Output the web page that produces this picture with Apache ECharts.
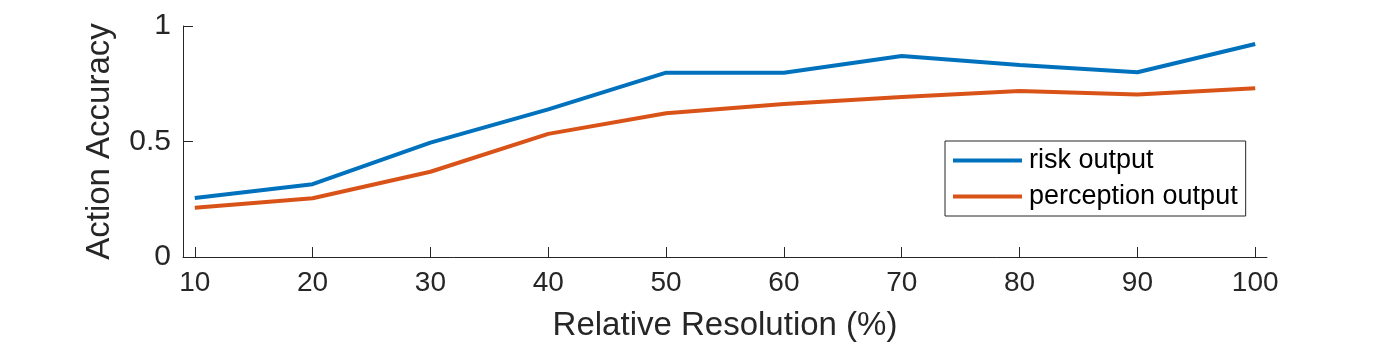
<!DOCTYPE html>
<html>
<head>
<meta charset="utf-8">
<script src="https://cdn.jsdelivr.net/npm/echarts@6/dist/echarts.min.js"></script>
<style>
  html, body { margin: 0; padding: 0; background: #fff; }
  #chart { width: 1400px; height: 350px; }
</style>
</head>
<body>
<div id="chart"></div>
<script>
const resolution = [10, 20, 30, 40, 50, 60, 70, 80, 90, 100];
const riskOutput = [0.255, 0.315, 0.495, 0.639, 0.798, 0.798, 0.870, 0.831, 0.800, 0.922];
const perceptionOutput = [0.213, 0.254, 0.369, 0.533, 0.622, 0.662, 0.693, 0.719, 0.703, 0.730];
const yTicks = [0, 0.5, 1];

const textColor = '#262626';
const font = '"Liberation Sans", Arial, Helvetica, sans-serif';
const color = ['#0072BD', '#D95319'];

const pairs = (ys) => resolution.map((x, i) => [x, ys[i]]);

const chart = echarts.init(document.getElementById('chart'), null, { renderer: 'canvas' });

const option = {
  backgroundColor: '#fff',
  animation: false,
  color: color,
  textStyle: { fontFamily: font, color: textColor },
  grid: {
    left: 183,
    right: 133,
    top: 26,
    bottom: 93
  },
  legend: {
    orient: 'vertical',
    left: 945,
    top: 141,
    padding: [6, 8, 6, 8],
    itemGap: 9,
    itemWidth: 69,
    itemHeight: 4,
    icon: 'rect',
    borderColor: textColor,
    borderWidth: 1,
    backgroundColor: '#fff',
    textStyle: { fontSize: 27, lineHeight: 27, color: '#000', fontFamily: font, padding: [0, 0, 0, 2] },
    data: ['risk output', 'perception output']
  },
  xAxis: {
    type: 'value',
    min: 9,
    max: 101,
    name: 'Relative Resolution (%)',
    nameLocation: 'middle',
    nameGap: 52,
    nameTextStyle: { fontSize: 33, color: textColor, fontFamily: font },
    axisLine: { show: true, lineStyle: { color: textColor, width: 1 } },
    axisTick: { show: true, inside: true, length: 10, customValues: resolution, lineStyle: { color: textColor } },
    axisLabel: { fontSize: 28, color: textColor, margin: 12, customValues: resolution, fontFamily: font },
    splitLine: { show: false }
  },
  yAxis: {
    type: 'value',
    min: 0,
    max: 1,
    interval: 0.5,
    name: 'Action Accuracy',
    nameLocation: 'middle',
    nameGap: 67,
    nameTextStyle: { fontSize: 33, color: textColor, fontFamily: font },
    axisLine: { show: true, lineStyle: { color: textColor, width: 1 } },
    axisTick: { show: true, inside: true, length: 10, lineStyle: { color: textColor } },
    axisLabel: { fontSize: 30, color: textColor, margin: 12, customValues: yTicks, fontFamily: font },
    splitLine: { show: false }
  },
  series: [
    {
      name: 'risk output',
      type: 'line',
      symbol: 'none',
      lineStyle: { color: color[0], width: 4 },
      data: pairs(riskOutput)
    },
    {
      name: 'perception output',
      type: 'line',
      symbol: 'none',
      lineStyle: { color: color[1], width: 4 },
      data: pairs(perceptionOutput)
    }
  ]
};

chart.setOption(option);
</script>
</body>
</html>
